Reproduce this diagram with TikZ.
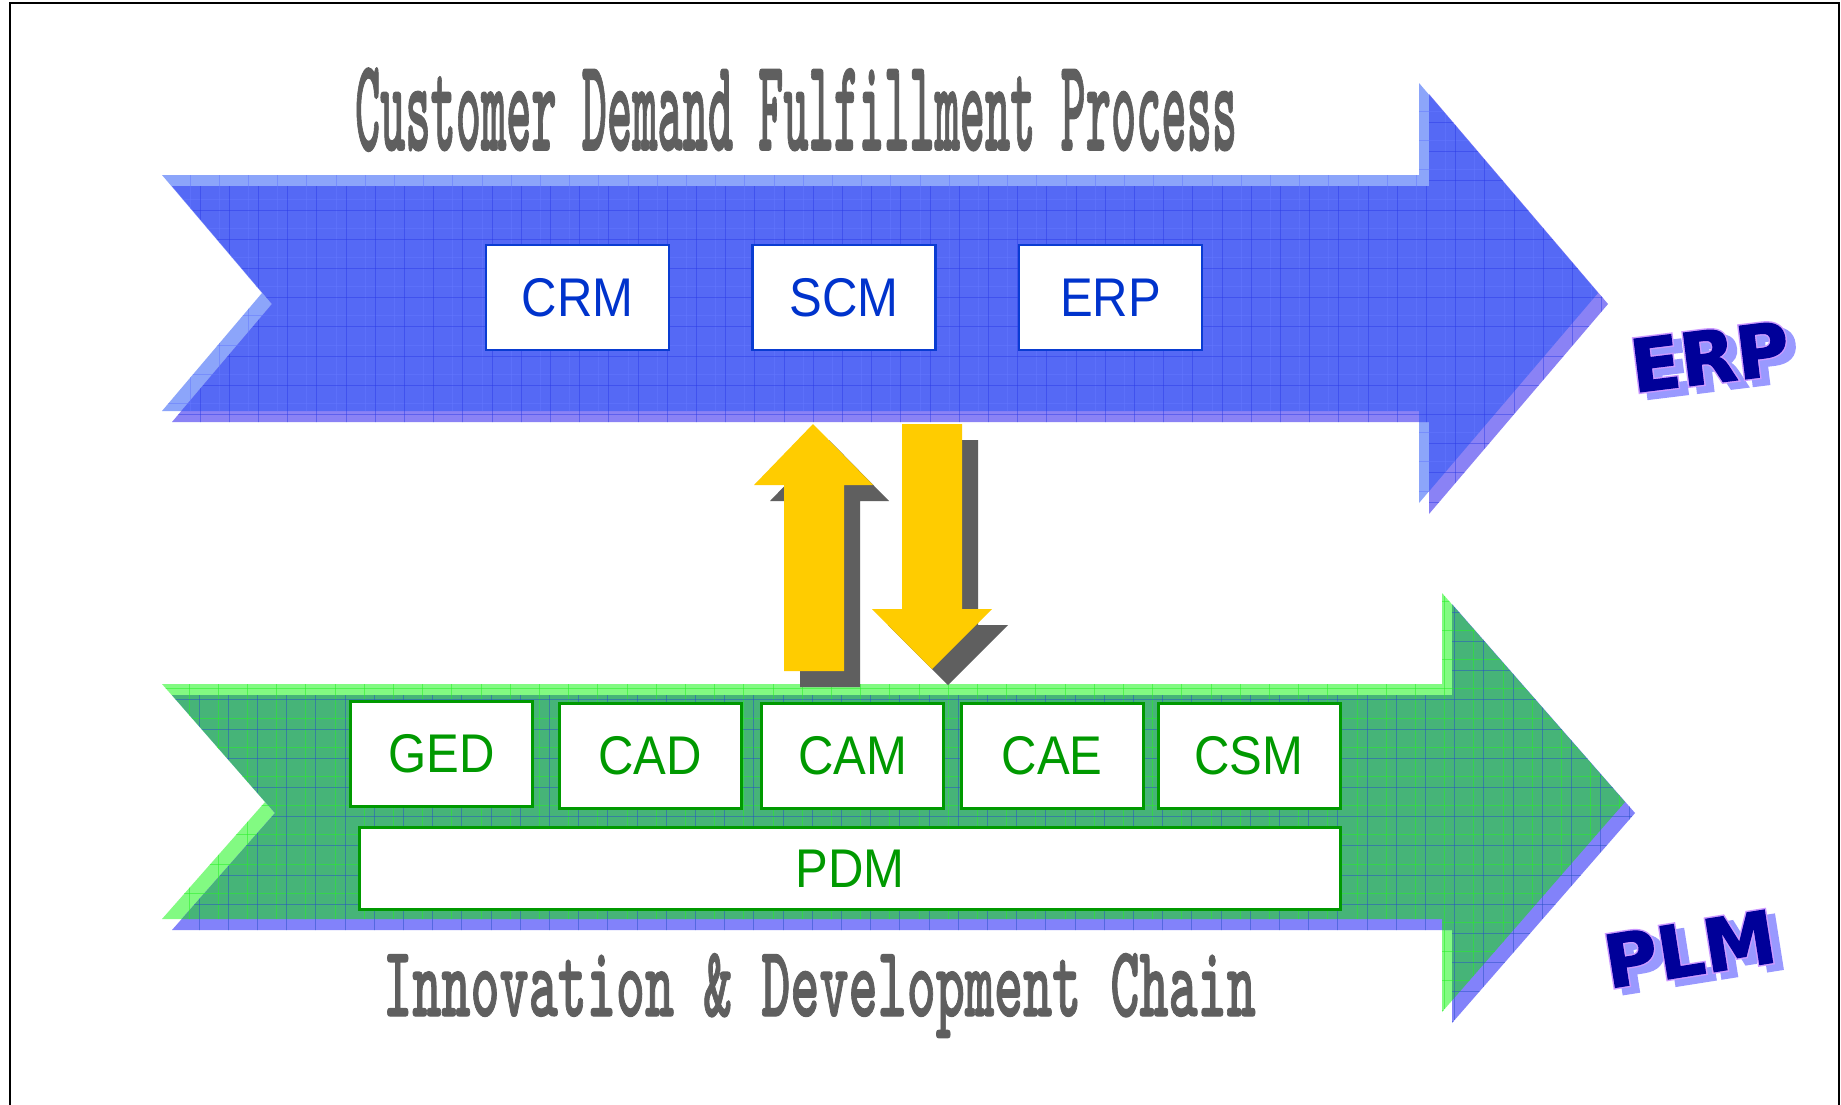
\documentclass[tikz,border=0pt]{standalone}
\usepackage{fontspec}
\setmainfont{Liberation Sans}
\newfontfamily\courfnt{lmmonolt10-bold}[Extension=.otf, FakeBold=1.2]
\newfontfamily\waout{DejaVu Sans}[FakeBold=5.5]
\newfontfamily\wain{DejaVu Sans}[FakeBold=1.5]
\definecolor{blueL}{HTML}{8CA5FA}
\definecolor{blueD}{HTML}{8A82F5}
\definecolor{blueO}{HTML}{5569F5}
\definecolor{greenL}{HTML}{82FA82}
\definecolor{greenD}{HTML}{8282FA}
\definecolor{greenO}{HTML}{46B478}
\definecolor{gridBL}{HTML}{6478FF}
\definecolor{gridBD}{HTML}{2838E6}
\definecolor{gridGL}{HTML}{28F028}
\definecolor{gridGD}{HTML}{2850C8}
\definecolor{boxblue}{HTML}{0A3CD2}
\definecolor{txtblue}{HTML}{0033CC}
\definecolor{boxgreen}{HTML}{009900}
\definecolor{gold}{HTML}{FFCC00}
\definecolor{shadowgray}{HTML}{5F5F5F}
\definecolor{titlegray}{HTML}{5F5F5F}
\definecolor{navy}{HTML}{000099}
\definecolor{lilac}{HTML}{CC99FF}
\definecolor{wshadow}{HTML}{9999FF}
\newcommand\bluepath{(162,175) -- (1419,175) -- (1419,83) -- (1598,293) -- (1419,503) -- (1419,411) -- (162,411) -- (262,293) -- cycle}
\newcommand\greenpath{(162,684) -- (1442,684) -- (1442,593) -- (1625,802) -- (1442,1012) -- (1442,919) -- (162,919) -- (265,802) -- cycle}
\newcommand\mygrid[5]{%
  \foreach \k in {-1,...,52} \draw[#1] ({#2+\k*29.2},#4) -- ({#2+\k*29.2},#5);
  \foreach \k in {0,...,17} \draw[#1] (140,{#3+\k*29.2}) -- (1660,{#3+\k*29.2});
}
\newcommand\wordart[1]{%
  \rlap{\hspace{8pt}\raisebox{-7pt}{\color{wshadow}\waout\bfseries #1}}%
  \rlap{\color{lilac}\waout\bfseries #1}%
  {\color{navy}\wain\bfseries #1}}
\begin{document}
\begin{tikzpicture}[x=1pt,y=-1pt,
  bluebox/.style={draw=boxblue, line width=2.5pt, fill=white, minimum width=183pt, minimum height=105pt, inner sep=0pt, text=txtblue, font=\fontsize{54.5}{60}\selectfont},
  greenbox/.style={draw=boxgreen, line width=3pt, fill=white, minimum width=182pt, minimum height=105pt, inner sep=0pt, text=boxgreen, font=\fontsize{54.5}{60}\selectfont},
  yarrow/.style={fill=gold},
  yshadow/.style={fill=shadowgray},
  wa/.style={inner sep=0pt, anchor=base, font=\fontsize{73}{78}\selectfont}
]
\useasboundingbox (0,0) rectangle (1841,1104);
\fill[white] (0,0) rectangle (1841,1104);
\draw[line width=2pt] (10,3) rectangle (1839,1112);

% ---------- blue band ----------
\fill[blueL] \bluepath;
\begin{scope}[shift={(10,11)}] \fill[blueD] \bluepath; \end{scope}
\begin{scope}
  \clip \bluepath;
  \begin{scope}[shift={(10,11)}] \fill[blueO] \bluepath; \end{scope}
\end{scope}
\begin{scope}
  \clip \bluepath;
  \mygrid{gridBL, line width=1pt, opacity=0.5}{190}{53}{60}{540}
\end{scope}
\begin{scope}[shift={(10,11)}]
  \clip \bluepath;
  \mygrid{gridBD, line width=1pt, opacity=0.45}{190}{53}{60}{540}
\end{scope}

% ---------- green band ----------
\fill[greenL] \greenpath;
\begin{scope}[shift={(10,11)}] \fill[greenD] \greenpath; \end{scope}
\begin{scope}
  \clip \greenpath;
  \begin{scope}[shift={(10,11)}] \fill[greenO] \greenpath; \end{scope}
\end{scope}
\begin{scope}
  \clip \greenpath;
  \mygrid{gridGL, line width=1pt, opacity=0.55}{189}{572}{570}{1050}
\end{scope}
\begin{scope}[shift={(10,11)}]
  \clip \greenpath;
  \mygrid{gridGD, line width=1pt, opacity=0.5}{189}{572}{570}{1050}
\end{scope}

% ---------- yellow arrows ----------
\begin{scope}[shift={(16,16)}]
  \fill[yshadow] (784,671) -- (784,485) -- (754,485) -- (813,424) -- (873,485) -- (844,485) -- (844,671) -- cycle;
  \fill[yshadow] (902,424) -- (962,424) -- (962,609) -- (992,609) -- (932,669) -- (872,609) -- (902,609) -- cycle;
\end{scope}
\fill[yarrow] (784,671) -- (784,485) -- (754,485) -- (813,424) -- (873,485) -- (844,485) -- (844,671) -- cycle;
\fill[yarrow] (902,424) -- (962,424) -- (962,609) -- (992,609) -- (932,669) -- (872,609) -- (902,609) -- cycle;

% ---------- boxes ----------
\node[bluebox] (crm) at (577.5,297.5) {\scalebox{0.9}[1]{CRM}};
\node[bluebox] (scm) at (844,297.5) {\scalebox{0.9}[1]{SCM}};
\node[bluebox] (erpbox) at (1110.5,297.5) {\scalebox{0.9}[1]{ERP}};

\node[greenbox] (ged) at (441.5,753.5) {\scalebox{0.9}[1]{GED}};
\node[greenbox] (cad) at (650,755.5) {\scalebox{0.9}[1]{CAD}};
\node[greenbox] (cam) at (852.5,755.5) {\scalebox{0.9}[1]{CAM}};
\node[greenbox] (cae) at (1052,755.5) {\scalebox{0.9}[1]{CAE}};
\node[greenbox] (csm) at (1249,755.5) {\scalebox{0.9}[1]{CSM}};
\node[greenbox, minimum width=981pt, minimum height=82pt] (pdm) at (850,868.5) {\scalebox{0.9}[1]{PDM}};

% ---------- titles ----------
\node[anchor=base, inner sep=0pt, text=titlegray] (title) at (796,150)
  {\scalebox{1}[2.75]{\courfnt\fontsize{48}{50}\selectfont Customer Demand Fulfillment Process}};
\node[anchor=base, inner sep=0pt, text=titlegray] (subtitle) at (819.5,1016)
  {\scalebox{1}[1.82]{\courfnt\fontsize{55.4}{58}\selectfont Innovation \& Development Chain}};

% ---------- word art ----------
\node[wa, rotate=7] (erp) at (1713,383) {\wordart{ERP}};
\node[wa, rotate=9] (plm) at (1694,975) {\wordart{PLM}};
\end{tikzpicture}
\end{document}
